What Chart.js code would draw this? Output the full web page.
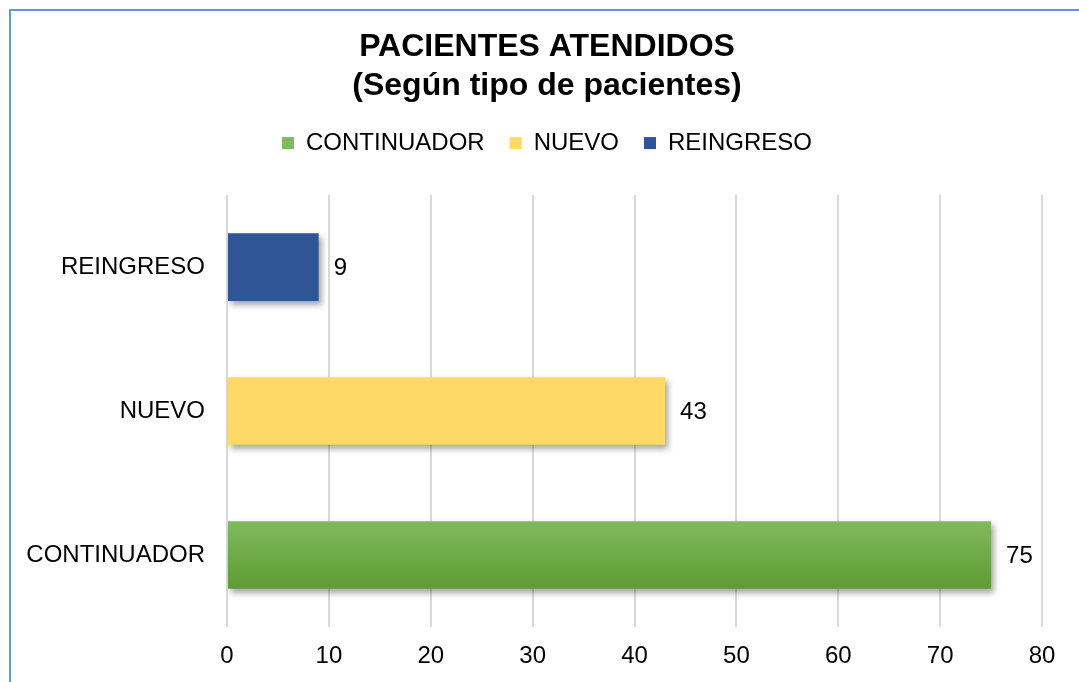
<!DOCTYPE html>
<html>
<head>
<meta charset="utf-8">
<script src="https://cdn.jsdelivr.net/npm/chart.js@4"></script>
<style>
    body { margin: 0; background: #fff; overflow: hidden; }
    #frame {
        position: absolute; left: 9px; top: 9px;
        width: 1100px; height: 700px;
        border-left: 2px solid #5B9BD5; border-top: 2px solid #5B9BD5;
    }
    #wrap { position: absolute; left: 0; top: 0; width: 1079px; height: 682px; }
</style>
</head>
<body>
<div id="frame"></div>
<div id="wrap"><canvas id="myChart"></canvas></div>
<script>
const categories = ["REINGRESO", "NUEVO", "CONTINUADOR"];
const seriesNames = ["CONTINUADOR", "NUEVO", "REINGRESO"];
const continuador = [null, null, 75];
const nuevo = [null, 43, null];
const reingreso = [9, null, null];
const xTicks = [0, 10, 20, 30, 40, 50, 60, 70, 80];

const FONT = "Arial, 'Liberation Sans', sans-serif";
const BAR_PCT = 0.47;

function greenFill(context) {
    const chart = context.chart;
    const y = chart.scales.y;
    if (!chart.chartArea || !y || context.dataIndex === undefined) {
        return "#6AAA3E";
    }
    const center = y.getPixelForValue(context.dataIndex);
    const step = Math.abs(y.getPixelForValue(1) - y.getPixelForValue(0));
    const half = (step * BAR_PCT) / 2;
    if (!isFinite(center) || !isFinite(half) || half <= 0) {
        return "#6AAA3E";
    }
    const g = chart.ctx.createLinearGradient(0, center - half, 0, center + half);
    g.addColorStop(0, "#81B95E");
    g.addColorStop(1, "#5D9C32");
    return g;
}

const shadowPlugin = {
    id: "shadow",
    beforeDatasetsDraw(chart) {
        const ctx = chart.ctx;
        ctx.save();
        ctx.shadowColor = "rgba(0,0,0,0.35)";
        ctx.shadowBlur = 6;
        ctx.shadowOffsetX = 3;
        ctx.shadowOffsetY = 4;
    },
    afterDatasetsDraw(chart) {
        chart.ctx.restore();
    },
};

const valueLabels = {
    id: "valueLabels",
    afterDatasetsDraw(chart) {
        const ctx = chart.ctx;
        ctx.save();
        ctx.font = `24px ${FONT}`;
        ctx.fillStyle = "#000";
        ctx.textBaseline = "middle";
        ctx.textAlign = "left";
        chart.data.datasets.forEach((ds, i) => {
            chart.getDatasetMeta(i).data.forEach((bar, j) => {
                if (ds.data[j] == null) return;
                ctx.fillText(String(ds.data[j]), bar.x + 15, bar.y + 1);
            });
        });
        ctx.restore();
    },
};

function main() {
    const ctx = document.getElementById("myChart");

    new Chart(ctx, {
        type: "bar",
        data: {
            labels: categories,
            datasets: [
                {
                    label: seriesNames[0],
                    data: continuador,
                    backgroundColor: greenFill,
                },
                {
                    label: seriesNames[1],
                    data: nuevo,
                    backgroundColor: "#FFD966",
                },
                {
                    label: seriesNames[2],
                    data: reingreso,
                    backgroundColor: "#2F5597",
                },
            ],
        },
        options: {
            indexAxis: "y",
            responsive: true,
            maintainAspectRatio: false,
            animation: false,
            events: [],
            // left/right padding chosen so the title is centred in the frame
            layout: { padding: { left: 26, right: 11, top: 0, bottom: 0 } },
            datasets: {
                bar: { categoryPercentage: BAR_PCT, barPercentage: 1 },
            },
            plugins: {
                title: {
                    display: true,
                    text: ["PACIENTES ATENDIDOS", "(Según tipo de pacientes)"],
                    color: "#000",
                    font: { family: FONT, size: 32, weight: "bold", lineHeight: 1.22 },
                    padding: { top: 28, bottom: 0 },
                },
                legend: {
                    display: true,
                    position: "top",
                    labels: {
                        color: "#000",
                        font: { family: FONT, size: 24 },
                        boxWidth: 12,
                        boxHeight: 12,
                        padding: 25,
                    },
                },
                tooltip: { enabled: false },
            },
            scales: {
                x: {
                    min: 0,
                    max: 80,
                    afterBuildTicks: (axis) => {
                        axis.ticks = xTicks.map((v) => ({ value: v }));
                    },
                    afterFit: (axis) => { axis.height = 55; },
                    grid: { color: "#D9D9D9", lineWidth: 2, drawTicks: false },
                    border: { display: false },
                    ticks: {
                        color: "#000",
                        font: { family: FONT, size: 24 },
                        padding: 15,
                    },
                },
                // empty spacer between legend and plot
                x2: {
                    type: "linear",
                    position: "top",
                    display: true,
                    afterFit: (axis) => { axis.height = 30; },
                    grid: { display: false, drawTicks: false },
                    border: { display: false },
                    ticks: { display: false },
                },
                y: {
                    stacked: true,
                    afterFit: (axis) => { axis.width = 201; },
                    grid: { display: false, drawTicks: false },
                    border: { display: false },
                    ticks: {
                        color: "#000",
                        font: { family: FONT, size: 24 },
                        padding: 22,
                    },
                },
                // empty spacer on the right of the plot
                y2: {
                    type: "linear",
                    position: "right",
                    display: true,
                    afterFit: (axis) => { axis.width = 26; },
                    grid: { display: false, drawTicks: false },
                    border: { display: false },
                    ticks: { display: false },
                },
            },
        },
        plugins: [shadowPlugin, valueLabels],
    });
}

main();
</script>
</body>
</html>
